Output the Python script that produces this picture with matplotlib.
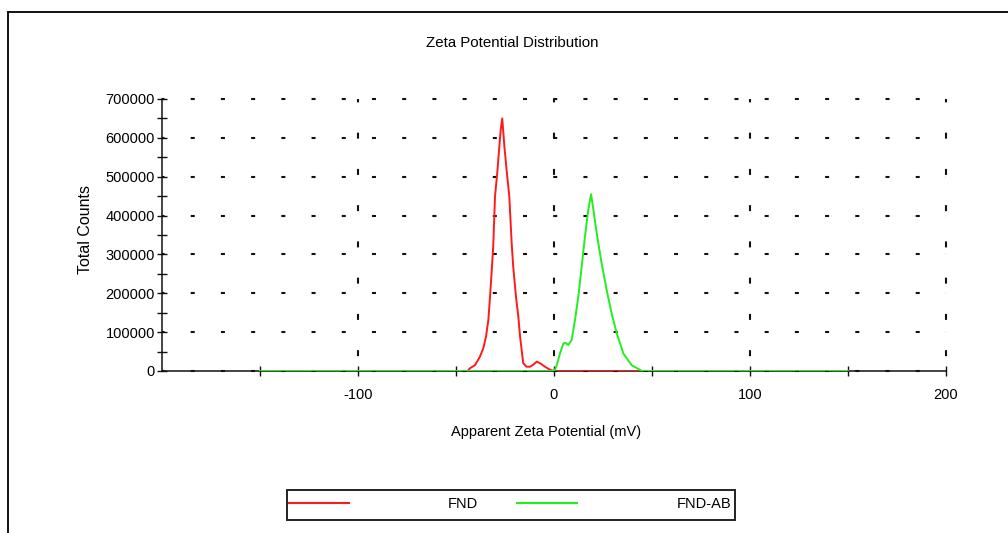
import matplotlib
matplotlib.use("Agg")
import matplotlib.pyplot as plt
from matplotlib.lines import Line2D
from matplotlib.patches import Rectangle

plt.rcParams["font.family"] = ["Liberation Sans", "DejaVu Sans"]
plt.rcParams["lines.scale_dashes"] = False

# Zeta potential (mV) and total counts for each sample
fnd_mv = [-44.0, -42.9, -40.3, -37.8, -36.1, -34.7, -33.5, -32.7, -31.8, -31.0,
          -30.1, -28.9, -27.9, -27.2, -26.4, -25.3, -24.1, -22.8, -21.6, -20.8,
          -19.4, -18.2, -17.3, -16.5, -15.7, -14.0, -12.2, -10.4, -8.8, -7.1,
          -4.6, -2.0, 0.0, 45.0]
fnd_counts = [0, 7000, 15000, 37000, 58000, 88000, 131000, 187000, 256000, 322000,
              449000, 513000, 577000, 620000, 650000, 577000, 513000, 449000, 329000, 268000,
              191000, 140000, 88000, 54000, 20000, 11000, 11000, 17000, 24000, 20000,
              11000, 3000, 0, 0]

fndab_mv = [-150.0, -1.0, 0.5, 1.4, 3.1, 4.8, 6.0, 7.3, 9.0, 10.7,
            12.4, 14.1, 15.8, 17.5, 18.9, 20.1, 21.8, 24.3, 26.9, 29.4,
            32.0, 35.4, 39.6, 43.9, 45.0, 150.0]
fndab_counts = [0, 0, 3000, 15000, 46000, 71000, 72000, 67000, 80000, 131000,
                191000, 268000, 346000, 415000, 455000, 415000, 354000, 277000, 208000, 148000,
                97000, 45000, 15000, 3000, 0, 0]

x_major = [-100, 0, 100, 200]
x_major_labels = ["-100", "0", "100", "200"]
x_minor = [-150, -50, 50, 150]
y_major = [0, 100000, 200000, 300000, 400000, 500000, 600000, 700000]
y_major_labels = ["0", "100000", "200000", "300000", "400000", "500000", "600000", "700000"]
y_minor = [50000, 150000, 250000, 350000, 450000, 550000, 650000]

series_names = ["FND", "FND-AB"]
series_colors = ["#ff1a1a", "#22ee22"]

FS = 10.5
W, H = 1008, 533
fig = plt.figure(figsize=(W / 100, H / 100), dpi=100)
fig.patch.set_facecolor("white")
ax = fig.add_axes([162 / W, (H - 371) / H, 784 / W, 272 / H])

ax.plot(fnd_mv, fnd_counts, color=series_colors[0], lw=1.4, zorder=3)
ax.plot(fndab_mv, fndab_counts, color=series_colors[1], lw=1.4, zorder=3)

ax.set_xlim(-200, 200)
ax.set_ylim(0, 700000)

for s in ("top", "right"):
    ax.spines[s].set_visible(False)
for s in ("left", "bottom"):
    ax.spines[s].set_linewidth(1.1)
    ax.spines[s].set_color("#111111")

ax.set_xticks(x_major)
ax.set_xticklabels(x_major_labels)
ax.set_xticks(x_minor, minor=True)
ax.set_yticks(y_major)
ax.set_yticklabels(y_major_labels)
ax.set_yticks(y_minor, minor=True)

ax.tick_params(axis="both", which="both", direction="inout", length=7,
               width=1.0, color="#111111", labelsize=FS, labelcolor="black")
ax.tick_params(axis="y", which="both", pad=1.5)
ax.tick_params(axis="x", which="both", pad=9)

# Sparse dashed grid: short horizontal dashes and short vertical dashes
ax.yaxis.grid(True, which="major", color="#111111", lw=1.5,
              linestyle=(1.08, (2.9, 18.85)))
ax.xaxis.grid(True, which="major", color="#111111", lw=1.5,
              linestyle=(15.4, (4.3, 21.8)))
for gl in ax.get_xgridlines() + ax.get_ygridlines():
    gl.set_clip_on(False)
ax.set_axisbelow(True)

ax.set_xlabel("Apparent Zeta Potential (mV)", fontsize=FS)
ax.xaxis.set_label_coords((546 - 162) / 784, (371 - 432) / 272)
ax.xaxis.label.set_va("center")
ax.set_ylabel("Total Counts", fontsize=FS + 1)
ax.yaxis.set_label_coords((85 - 162) / 784, (371 - 230) / 272)
ax.yaxis.label.set_va("center")

ax.text((512 - 162) / 784, (371 - 43) / 272, "Zeta Potential Distribution",
        transform=ax.transAxes, ha="center", va="center", fontsize=FS + 0.3)


def fx(px):
    return px / W


def fy(py):
    return 1 - py / H


# Outer frame
fig.add_artist(Line2D([fx(8), fx(8)], [0, fy(12)], color="#111111", lw=1.4))
fig.add_artist(Line2D([fx(8), 1], [fy(12), fy(12)], color="#111111", lw=1.4))

# Legend box
fig.add_artist(Rectangle((fx(287), fy(520)), fx(735) - fx(287), fy(490) - fy(520),
                         transform=fig.transFigure, facecolor="white",
                         edgecolor="#222222", lw=1.4))
legend_items = [(289, 349, 478), (517, 577, 731)]
for (x0, x1, tx), name, col in zip(legend_items, series_names, series_colors):
    fig.add_artist(Line2D([fx(x0), fx(x1)], [fy(503), fy(503)], color=col, lw=1.5))
    fig.text(fx(tx), fy(504), name, ha="right", va="center", fontsize=FS)

fig.savefig("out.png", dpi=100)
